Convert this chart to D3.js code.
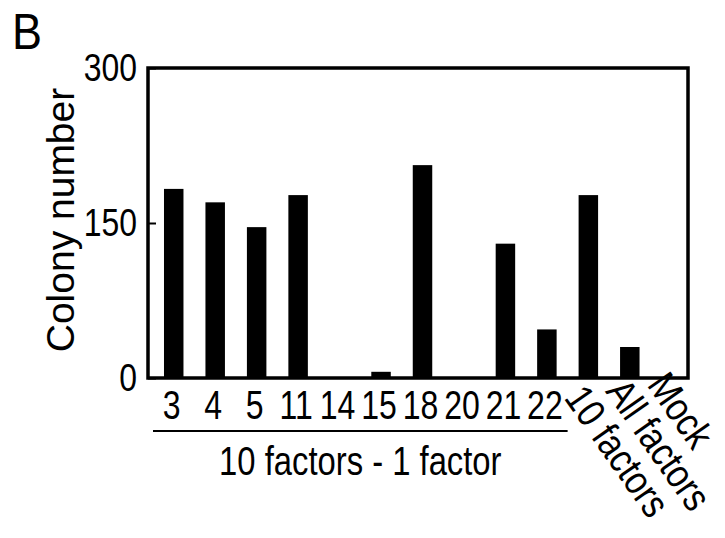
<!DOCTYPE html>
<html>
<head>
<meta charset="utf-8">
<script src="https://cdn.jsdelivr.net/npm/d3@7"></script>
<style>
  html, body { margin: 0; padding: 0; background: #fff; }
  svg { display: block; }
  text { font-family: "Liberation Sans", Arial, sans-serif; fill: #000; }
</style>
</head>
<body>
<svg id="chart" width="725" height="538"></svg>
<script>
// ---- data ----
const categories = ["3", "4", "5", "11", "14", "15", "18", "20", "21", "22", "10 factors", "All factors", "Mock"];
const values = [183, 170, 146, 177, 0, 6, 206, 0, 130, 47, 177, 30, 0];
const yTicks = [0, 150, 300];
const groupedCount = 10; // first 10 categories form the "10 factors - 1 factor" group
const groupLabel = "10 factors - 1 factor";
const yTitle = "Colony number";
const panelLabel = "B";

// ---- layout ----
const svg = d3.select("#chart");
const frame = { left: 148, right: 688, top: 68, bottom: 378 };

const x = d3.scaleBand()
  .domain(categories)
  .range([153, 692])
  .paddingInner(0.53)
  .paddingOuter(0.265);

const y = d3.scaleLinear()
  .domain([0, 300])
  .range([frame.bottom, frame.top]);

// panel letter
svg.append("text")
  .attr("transform", "translate(12,49) scale(0.9,1)")
  .attr("font-size", 50)
  .text(panelLabel);

// bars
svg.append("g").selectAll("rect")
  .data(categories)
  .join("rect")
  .attr("x", d => x(d))
  .attr("width", x.bandwidth())
  .attr("y", (d, i) => y(values[i]))
  .attr("height", (d, i) => y(0) - y(values[i]))
  .attr("fill", "#000");

// frame
svg.append("rect")
  .attr("x", frame.left).attr("y", frame.top)
  .attr("width", frame.right - frame.left)
  .attr("height", frame.bottom - frame.top)
  .attr("fill", "none")
  .attr("stroke", "#000")
  .attr("stroke-width", 3.5);

// y axis
const yAxis = d3.axisLeft(y).tickValues(yTicks).tickSize(-8).tickPadding(12);
const ya = svg.append("g")
  .attr("transform", `translate(${frame.left},0)`)
  .call(yAxis);
ya.select(".domain").remove();
ya.selectAll(".tick line").attr("stroke", "#000").attr("stroke-width", 2);
ya.selectAll(".tick text")
  .attr("font-family", "Liberation Sans, Arial, sans-serif")
  .attr("font-size", 38)
  .attr("fill", "#000")
  .attr("x", null)
  .attr("dy", "0.33em")
  .attr("transform", "translate(-11,0) scale(0.84,1)");

// y title
svg.append("text")
  .attr("transform", "translate(74,220) rotate(-90)")
  .attr("text-anchor", "middle")
  .attr("font-size", 39)
  .text(yTitle);

// x labels: straight for grouped ones
const grouped = categories.slice(0, groupedCount);
const rotated = categories.slice(groupedCount);

svg.append("g").selectAll("text")
  .data(grouped)
  .join("text")
  .attr("transform", d => `translate(${x(d) + x.bandwidth() / 2 - 2},419) scale(0.8,1)`)
  .attr("text-anchor", "middle")
  .attr("font-size", 40)
  .text(d => d);

svg.append("g").selectAll("text")
  .data(rotated)
  .join("text")
  .attr("transform", (d, i) => `translate(${x(d) + x.bandwidth() / 2 - 25},${398 - 6.5 * i}) rotate(55) scale(0.85,1)`)
  .attr("text-anchor", "start")
  .attr("font-size", 40)
  .text(d => d);

// group underline
svg.append("line")
  .attr("x1", 153)
  .attr("x2", x(grouped[grouped.length - 1]) + x.bandwidth() + 11)
  .attr("y1", 431).attr("y2", 431)
  .attr("stroke", "#000")
  .attr("stroke-width", 2);

// group label
const gx = (x(grouped[0]) + x(grouped[grouped.length - 1]) + x.bandwidth()) / 2;
svg.append("text")
  .attr("transform", `translate(${gx},475) scale(0.8,1)`)
  .attr("text-anchor", "middle")
  .attr("font-size", 41)
  .text(groupLabel);
</script>
</body>
</html>
